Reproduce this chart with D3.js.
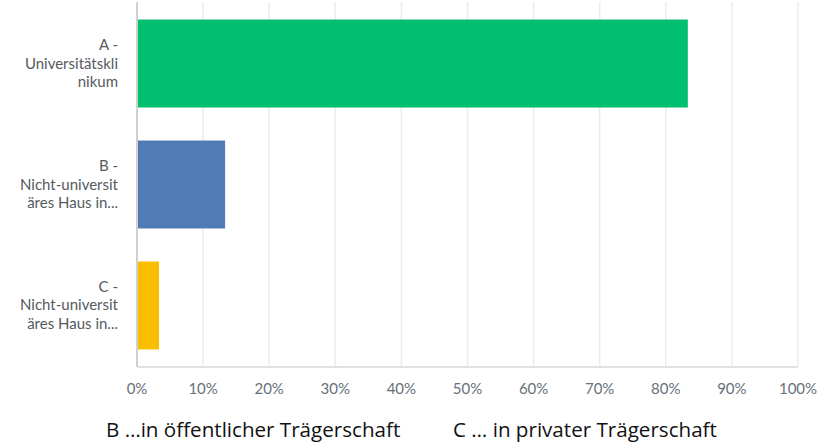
<!DOCTYPE html>
<html><head><meta charset="utf-8">
<script src="https://cdn.jsdelivr.net/npm/d3@7"></script>
<style>body{margin:0;background:#fff;}svg{display:block;}</style>
</head><body>
<svg id="chart" width="823" height="442"></svg>
<script>
const categories = ["A", "B", "C"];
const categoryLabels = [
  ["A -", "Universitätskli", "nikum"],
  ["B -", "Nicht-universit", "äres Haus in..."],
  ["C -", "Nicht-universit", "äres Haus in..."]
];
const values = [83.33, 13.33, 3.33];
const colors = ["#00bf6f", "#507cb6", "#f9be00"];
const ticks = [0, 10, 20, 30, 40, 50, 60, 70, 80, 90, 100];
const legendItems = ["B …in öffentlicher Trägerschaft", "C … in privater Trägerschaft"];

const svg = d3.select("#chart");
const mLeft = 137, mRight = 798, mTop = 2, mBottom = 367;
const x = d3.scaleLinear().domain([0, 100]).range([mLeft, mRight]);
const y = d3.scaleBand().domain(categories).range([mTop, mBottom]).paddingInner(0.273).paddingOuter(0.145);

// gridlines
svg.append("g").selectAll("line").data(ticks.slice(1)).join("line")
  .attr("x1", d => x(d)).attr("x2", d => x(d))
  .attr("y1", mTop).attr("y2", mBottom)
  .attr("stroke", "#ececec").attr("stroke-width", 1.5);

// bars
svg.append("g").selectAll("rect").data(values).join("rect")
  .attr("x", x(0)).attr("y", (d, i) => y(categories[i]))
  .attr("width", d => x(d) - x(0)).attr("height", y.bandwidth())
  .attr("fill", (d, i) => colors[i]);

// bottom line
svg.append("line").attr("x1", mLeft).attr("x2", mRight).attr("y1", mBottom).attr("y2", mBottom)
  .attr("stroke", "#d9d9d9").attr("stroke-width", 1.5);
// vertical axis line
svg.append("line").attr("x1", mLeft).attr("x2", mLeft).attr("y1", mTop).attr("y2", mBottom)
  .attr("stroke", "#d0d0d0").attr("stroke-width", 2);

// x tick labels
svg.append("g").selectAll("text").data(ticks).join("text")
  .attr("x", d => x(d)).attr("y", 394)
  .attr("text-anchor", "middle")
  .attr("font-family", "Lato, 'Open Sans', sans-serif").attr("font-size", 15)
  .attr("fill", "#67707a")
  .text(d => d + "%");

// category labels
categories.forEach((c, i) => {
  const cy = y(c) + y.bandwidth() / 2;
  const lines = categoryLabels[i];
  const lh = 18.5;
  lines.forEach((t, j) => {
    svg.append("text")
      .attr("x", 118).attr("y", cy + (j - (lines.length - 1) / 2) * lh + 5)
      .attr("text-anchor", "end")
      .attr("font-family", "Lato, 'Open Sans', sans-serif").attr("font-size", 15)
      .attr("fill", "#555a60")
      .text(t);
  });
});

// legend
svg.append("g").selectAll("text").data(legendItems).join("text")
  .attr("x", (d, i) => [106, 453][i]).attr("y", 437)
  .attr("font-family", "'Open Sans', sans-serif").attr("font-size", 20.6)
  .attr("fill", "#111")
  .text(d => d);
</script>
</body></html>
